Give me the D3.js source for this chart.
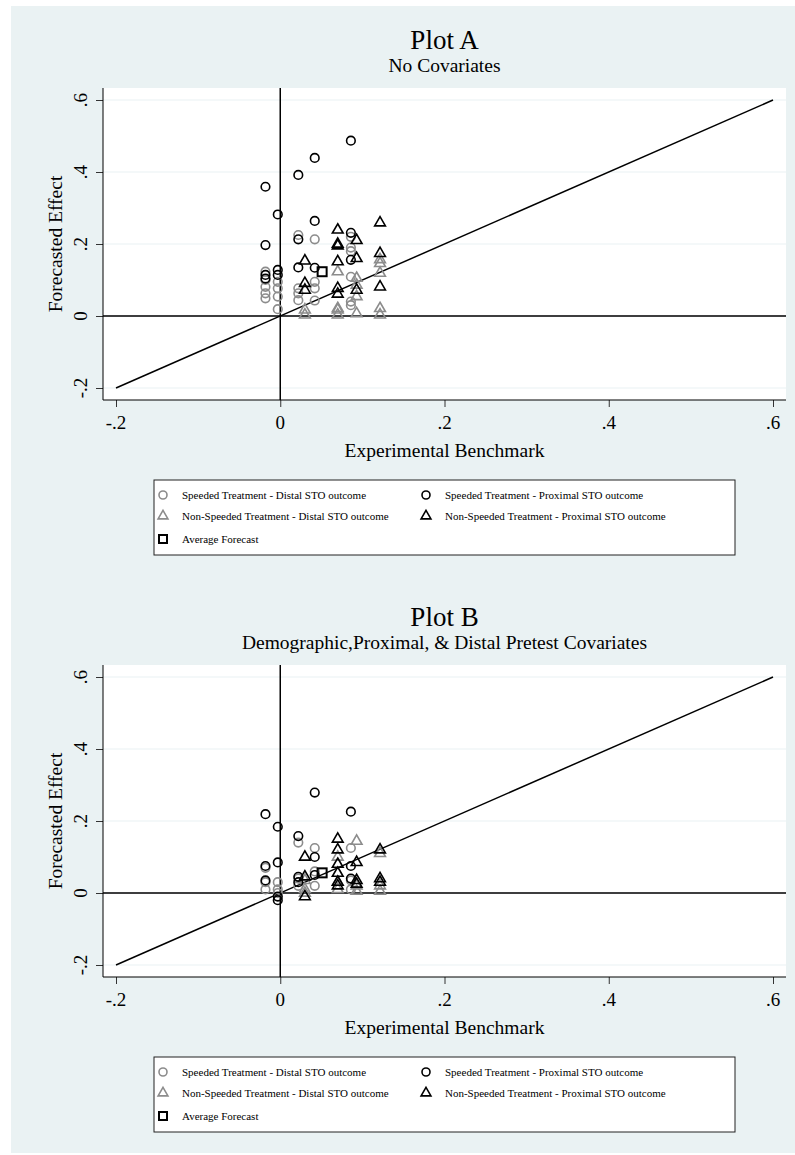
<!DOCTYPE html>
<meta charset="utf-8">
<style>
  body { margin: 0; background: #fff; }
  text { font-family: "Liberation Serif", "DejaVu Serif", serif; fill: #000; }
</style>
<svg width="795" height="1155"></svg>
<script src="https://cdn.jsdelivr.net/npm/d3@7"></script>
<script>

// ---- data ----
var ticks = [-0.2, 0, 0.2, 0.4, 0.6];
var tickLabels = ["-.2", "0", ".2", ".4", ".6"];
var legendLabels = [
  "Speeded Treatment - Distal STO outcome",
  "Speeded Treatment - Proximal STO outcome",
  "Non-Speeded Treatment - Distal STO outcome",
  "Non-Speeded Treatment - Proximal STO outcome",
  "Average Forecast"
];

// Plot A : [benchmark, forecast]
var aSpeedDistal = [[0.022,0.225],[0.042,0.213],[0.086,0.19],[0.086,0.22],[-0.018,0.123],[-0.018,0.1],
  [-0.018,0.081],[-0.018,0.063],[-0.018,0.049],[-0.003,0.095],[-0.003,0.077],[-0.003,0.054],[-0.003,0.019],
  [0.022,0.077],[0.022,0.063],[0.022,0.044],[0.042,0.095],[0.042,0.077],[0.042,0.043],[0.086,0.18],
  [0.086,0.109],[0.086,0.04],[0.086,0.03]];
var aSpeedProx = [[-0.018,0.359],[-0.003,0.282],[0.022,0.392],[0.042,0.439],[0.086,0.487],[0.042,0.264],
  [-0.018,0.197],[0.022,0.213],[0.086,0.231],[0.022,0.135],[0.042,0.134],[-0.018,0.114],[-0.018,0.104],
  [-0.003,0.128],[-0.003,0.114],[0.086,0.156]];
var aNonDistal = [[0.03,0.017],[0.03,0.003],[0.07,0.123],[0.07,0.021],[0.07,0.017],[0.07,0.003],
  [0.093,0.105],[0.093,0.086],[0.093,0.054],[0.093,0.007],[0.1215,0.157],[0.1215,0.146],[0.1215,0.119],
  [0.1215,0.021],[0.1215,0.003]];
var aNonProx = [[0.07,0.239],[0.07,0.2],[0.07,0.195],[0.1215,0.259],[0.093,0.21],[0.03,0.153],[0.07,0.151],
  [0.093,0.16],[0.1215,0.174],[0.1215,0.081],[0.03,0.091],[0.03,0.072],[0.07,0.077],[0.07,0.061],[0.093,0.072]];
var aAverage = [[0.051,0.123]];

// Plot B
var bSpeedDistal = [[0.022,0.14],[0.042,0.125],[0.086,0.125],[-0.018,0.07],[-0.018,0.03],[-0.018,0.01],
  [-0.003,0.03],[-0.003,0.01],[-0.003,0.0],[0.022,0.04],[0.022,0.02],[0.042,0.06],[0.042,0.02],
  [0.086,0.035],[0.086,0.01]];
var bSpeedProx = [[-0.018,0.219],[-0.003,0.184],[0.042,0.279],[0.086,0.226],[0.022,0.158],[-0.018,0.075],
  [-0.018,0.035],[-0.003,0.085],[-0.003,-0.01],[-0.003,-0.02],[0.022,0.045],[0.022,0.03],[0.042,0.1],
  [0.042,0.05],[0.086,0.075],[0.086,0.04]];
var bNonDistal = [[0.03,0.035],[0.03,0.01],[0.03,0.0],[0.07,0.1],[0.07,0.03],[0.07,0.01],[0.093,0.144],
  [0.093,0.02],[0.093,0.005],[0.1215,0.11],[0.1215,0.02],[0.1215,0.005]];
var bNonProx = [[0.03,0.1],[0.03,0.045],[0.03,-0.01],[0.07,0.15],[0.07,0.12],[0.07,0.08],[0.07,0.055],
  [0.07,0.03],[0.07,0.02],[0.093,0.085],[0.093,0.035],[0.093,0.025],[0.1215,0.12],[0.1215,0.04],[0.1215,0.03]];
var bAverage = [[0.051,0.056]];

var gray = "#8c8c8c", bg = "#eaf2f3";

var svg = d3.select("svg");

svg.append("rect").attr("x", 11).attr("y", 6).attr("width", 784).attr("height", 1147).attr("fill", bg);

var tri = d3.symbol().type(d3.symbolTriangle).size(50);
var triSmall = d3.symbol().type(d3.symbolTriangle).size(42);

function drawPanel(oy, title, subtitle, sd, sp, nd, np, avg) {
  var g = svg.append("g").attr("transform", "translate(0," + oy + ")");
  var left = 103, right = 786, top = 88, bottom = 400;

  var x = d3.scaleLinear().domain([-0.2, 0.6]).range([116, 773]);
  var y = d3.scaleLinear().domain([-0.2, 0.6]).range([388, 100]);

  g.append("rect").attr("x", left).attr("y", top).attr("width", right - left).attr("height", bottom - top)
    .attr("fill", "#fff");

  // gridlines
  g.selectAll(".grid").data(ticks).enter().append("line")
    .attr("x1", left).attr("x2", right)
    .attr("y1", function(d) { return y(d); }).attr("y2", function(d) { return y(d); })
    .attr("stroke", bg).attr("stroke-width", 1.2);

  // axes
  var ya = g.append("g").attr("transform", "translate(" + left + ",0)")
    .call(d3.axisLeft(y).tickValues(ticks).tickSize(7).tickFormat(""));
  ya.select(".domain").remove();
  ya.selectAll("line").attr("stroke", "#333");
  var xa = g.append("g").attr("transform", "translate(0," + bottom + ")")
    .call(d3.axisBottom(x).tickValues(ticks).tickSize(7).tickFormat(""));
  xa.select(".domain").remove();
  xa.selectAll("line").attr("stroke", "#333");

  g.append("line").attr("x1", left).attr("x2", left).attr("y1", top).attr("y2", bottom).attr("stroke", "#000");
  g.append("line").attr("x1", left).attr("x2", right).attr("y1", bottom).attr("y2", bottom).attr("stroke", "#000");

  g.selectAll(".ylab").data(ticks).enter().append("text")
    .attr("transform", function(d) { return "translate(87," + y(d) + ") rotate(-90)"; })
    .attr("text-anchor", "middle").style("font-size", "19px")
    .text(function(d, i) { return tickLabels[i]; });
  g.selectAll(".xlab").data(ticks).enter().append("text")
    .attr("x", function(d) { return x(d); }).attr("y", 429)
    .attr("text-anchor", "middle").style("font-size", "19px")
    .text(function(d, i) { return tickLabels[i]; });

  g.append("text").attr("x", 444.5).attr("y", 457).attr("text-anchor", "middle")
    .style("font-size", "19.5px").text("Experimental Benchmark");
  g.append("text").attr("transform", "translate(62,244) rotate(-90)").attr("text-anchor", "middle")
    .style("font-size", "19.5px").text("Forecasted Effect");

  g.append("text").attr("x", 444.5).attr("y", 49).attr("text-anchor", "middle")
    .style("font-size", "27px").text(title);
  g.append("text").attr("x", 444.5).attr("y", 72).attr("text-anchor", "middle")
    .style("font-size", "19.5px").text(subtitle);

  // reference lines
  g.append("line").attr("x1", left).attr("x2", right).attr("y1", y(0)).attr("y2", y(0))
    .attr("stroke", "#000").attr("stroke-width", 1.5);
  g.append("line").attr("x1", x(0)).attr("x2", x(0)).attr("y1", top).attr("y2", bottom)
    .attr("stroke", "#000").attr("stroke-width", 1.5);
  g.append("line").attr("x1", x(-0.2)).attr("y1", y(-0.2)).attr("x2", x(0.6)).attr("y2", y(0.6))
    .attr("stroke", "#000").attr("stroke-width", 1.5);

  // markers
  function circles(data, color) {
    g.append("g").selectAll("circle").data(data).enter().append("circle")
      .attr("cx", function(d) { return x(d[0]); }).attr("cy", function(d) { return y(d[1]); })
      .attr("r", 4.3).attr("fill", "none").attr("stroke", color).attr("stroke-width", 1.6);
  }
  function triangles(data, color) {
    g.append("g").selectAll("path").data(data).enter().append("path")
      .attr("d", tri)
      .attr("transform", function(d) { return "translate(" + x(d[0]) + "," + y(d[1]) + ")"; })
      .attr("fill", "none").attr("stroke", color).attr("stroke-width", 1.6);
  }
  circles(sd, gray);
  triangles(nd, gray);
  circles(sp, "#000");
  triangles(np, "#000");
  g.append("g").selectAll("rect").data(avg).enter().append("rect")
    .attr("x", function(d) { return x(d[0]) - 4.5; }).attr("y", function(d) { return y(d[1]) - 4.5; })
    .attr("width", 9).attr("height", 9).attr("fill", "none").attr("stroke", "#000").attr("stroke-width", 2);

  // legend
  var lg = g.append("g");
  lg.append("rect").attr("x", 154).attr("y", 480).attr("width", 581).attr("height", 75)
    .attr("fill", "#fff").attr("stroke", "#222").attr("stroke-width", 1);
  var pos = [[163, 495], [426, 495], [163, 516], [426, 516], [163, 539]];
  legendLabels.forEach(function(lab, i) {
    var p = pos[i];
    var col = (i === 0 || i === 2) ? gray : "#000";
    if (i === 0 || i === 1) {
      lg.append("circle").attr("cx", p[0]).attr("cy", p[1]).attr("r", 4).attr("fill", "none")
        .attr("stroke", col).attr("stroke-width", 1.6);
    } else if (i === 2 || i === 3) {
      lg.append("path").attr("d", triSmall).attr("transform", "translate(" + p[0] + "," + p[1] + ")")
        .attr("fill", "none").attr("stroke", col).attr("stroke-width", 1.6);
    } else {
      lg.append("rect").attr("x", p[0] - 4).attr("y", p[1] - 4).attr("width", 8).attr("height", 8)
        .attr("fill", "none").attr("stroke", "#000").attr("stroke-width", 2);
    }
    lg.append("text").attr("x", p[0] + 19).attr("y", p[1] + 4).style("font-size", "11px").text(lab);
  });
}

drawPanel(0, "Plot A", "No Covariates", aSpeedDistal, aSpeedProx, aNonDistal, aNonProx, aAverage);
drawPanel(577, "Plot B", "Demographic,Proximal, & Distal Pretest Covariates",
  bSpeedDistal, bSpeedProx, bNonDistal, bNonProx, bAverage);

</script>
